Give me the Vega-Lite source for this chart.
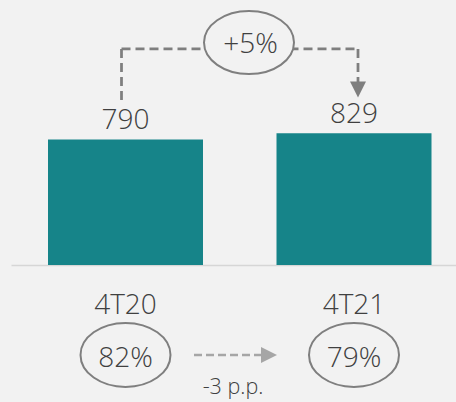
{
  "$schema": "https://vega.github.io/schema/vega-lite/v6.json",
  "width": 445,
  "height": 265,
  "autosize": {"type": "none"},
  "padding": {"left": 11, "right": 0, "top": 0, "bottom": 137},
  "background": "#f2f2f2",
  "config": {"view": {"stroke": null}, "font": "Open Sans", "text": {"font": "Open Sans", "fontWeight": 300}},
  "datasets": {
    "bars": [
      {"period": "4T20", "value": 790, "share": "82%"},
      {"period": "4T21", "value": 829, "share": "79%"}
    ],
    "growth": [{"from": "4T20", "to": "4T21", "label": "+5%"}],
    "shareChange": [{"from": "4T20", "to": "4T21", "label": "-3 p.p."}]
  },
  "layer": [
    {
      "data": {"name": "bars"},
      "mark": {"type": "bar", "color": "#168489"},
      "encoding": {
        "x": {
          "field": "period", "type": "nominal", "title": null,
          "scale": {"type": "band", "paddingInner": 0.3217, "paddingOuter": 0.1346, "align": 0.6016},
          "axis": {"title": null, "ticks": false, "grid": false, "domainColor": "#d6d6d6", "domainWidth": 1.5,
                   "labelFontSize": 28, "labelColor": "#404040", "labelAngle": 0, "labelPadding": 48,
                   "labelBaseline": "alphabetic", "labelFont": "Open Sans", "labelFontWeight": 300}
        },
        "y": {"field": "value", "type": "quantitative", "scale": {"domain": [0, 1668], "nice": false, "zero": true}, "axis": null}
      }
    },
    {
      "data": {"name": "bars"},
      "mark": {"type": "text", "fontSize": 28, "color": "#404040", "baseline": "alphabetic", "dy": -10},
      "encoding": {
        "x": {"field": "period", "type": "nominal", "title": null},
        "y": {"field": "value", "type": "quantitative"},
        "text": {"field": "value", "type": "quantitative"}
      }
    },
    {
      "data": {"name": "bars"},
      "mark": {"type": "point", "shape": "M-1,0A1,0.711 0 1,0 1,0A1,0.711 0 1,0 -1,0", "size": 8100, "filled": true, "fill": "#f2f2f2", "stroke": "#7f7f7f", "strokeWidth": 2, "opacity": 1},
      "encoding": {
        "x": {"field": "period", "type": "nominal", "title": null},
        "y": {"datum": -566}
      }
    },
    {
      "data": {"name": "bars"},
      "mark": {"type": "text", "fontSize": 28, "color": "#404040", "baseline": "alphabetic"},
      "encoding": {
        "x": {"field": "period", "type": "nominal", "title": null},
        "y": {"datum": -639},
        "text": {"field": "share", "type": "nominal"}
      }
    },
    {
      "data": {"name": "growth"},
      "mark": {"type": "rule", "color": "#7f7f7f", "strokeWidth": 2.75, "strokeDash": [9, 5], "xOffset": -4, "x2Offset": 4},
      "encoding": {
        "x": {"field": "from", "type": "nominal", "title": null},
        "x2": {"field": "to"},
        "y": {"datum": 1360}
      }
    },
    {
      "data": {"name": "growth"},
      "mark": {"type": "rule", "color": "#7f7f7f", "strokeWidth": 2.75, "strokeDash": [9, 5], "xOffset": -4},
      "encoding": {
        "x": {"field": "from", "type": "nominal", "title": null},
        "y": {"datum": 1360},
        "y2": {"datum": 1039}
      }
    },
    {
      "data": {"name": "growth"},
      "mark": {"type": "rule", "color": "#7f7f7f", "strokeWidth": 2.75, "strokeDash": [9, 5], "xOffset": 4},
      "encoding": {
        "x": {"field": "to", "type": "nominal", "title": null},
        "y": {"datum": 1360},
        "y2": {"datum": 1130}
      }
    },
    {
      "data": {"name": "growth"},
      "mark": {"type": "point", "shape": "M-1,-1L1,-1L0,1Z", "size": 256, "filled": true, "color": "#7f7f7f", "opacity": 1, "xOffset": 4},
      "encoding": {
        "x": {"field": "to", "type": "nominal", "title": null},
        "y": {"datum": 1105}
      }
    },
    {
      "data": {"name": "growth"},
      "mark": {"type": "point", "shape": "M-1,0A1,0.7 0 1,0 1,0A1,0.7 0 1,0 -1,0", "size": 8100, "filled": true, "fill": "#f2f2f2", "stroke": "#7f7f7f", "strokeWidth": 2, "opacity": 1, "xOffset": 123.5},
      "encoding": {
        "x": {"field": "from", "type": "nominal", "title": null},
        "y": {"datum": 1400}
      }
    },
    {
      "data": {"name": "growth"},
      "mark": {"type": "text", "fontSize": 28, "color": "#404040", "baseline": "alphabetic", "xOffset": 125},
      "encoding": {
        "x": {"field": "from", "type": "nominal", "title": null},
        "y": {"datum": 1335},
        "text": {"field": "label", "type": "nominal"}
      }
    },
    {
      "data": {"name": "shareChange"},
      "mark": {"type": "rule", "color": "#a6a6a6", "strokeWidth": 2.5, "strokeDash": [8, 4], "xOffset": 68.5, "x2Offset": -92},
      "encoding": {
        "x": {"field": "from", "type": "nominal", "title": null},
        "x2": {"field": "to"},
        "y": {"datum": -566}
      }
    },
    {
      "data": {"name": "shareChange"},
      "mark": {"type": "point", "shape": "M-1,-1L1,0L-1,1Z", "size": 256, "filled": true, "color": "#a6a6a6", "opacity": 1, "xOffset": -85},
      "encoding": {
        "x": {"field": "to", "type": "nominal", "title": null},
        "y": {"datum": -566}
      }
    },
    {
      "data": {"name": "shareChange"},
      "mark": {"type": "text", "fontSize": 21.5, "color": "#404040", "baseline": "alphabetic", "xOffset": -121},
      "encoding": {
        "x": {"field": "to", "type": "nominal", "title": null},
        "y": {"datum": -812},
        "text": {"field": "label", "type": "nominal"}
      }
    }
  ]
}
